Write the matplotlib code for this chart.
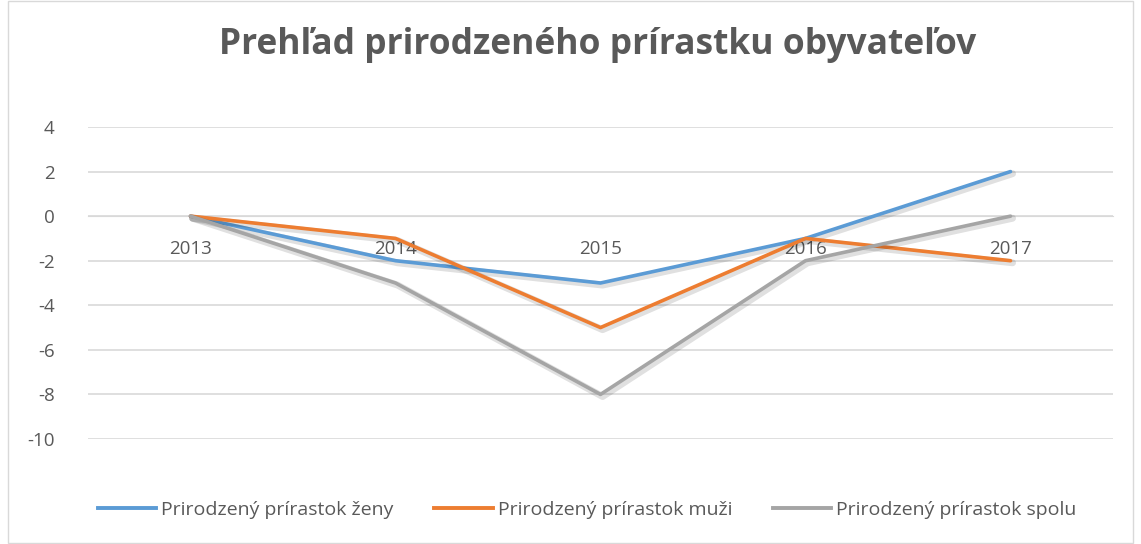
import matplotlib.pyplot as plt
import matplotlib.patheffects as pe
from matplotlib.patches import Rectangle
from matplotlib.lines import Line2D

# data
years = ["2013", "2014", "2015", "2016", "2017"]
zeny = [0, -2, -3, -1, 2]
muzi = [0, -1, -5, -1, -2]
spolu = [0, -3, -8, -2, 0]
labels = ["Prirodzený prírastok ženy", "Prirodzený prírastok muži", "Prirodzený prírastok spolu"]
colors = ["#5B9BD5", "#ED7D31", "#A5A5A5"]

plt.rcParams['font.family'] = ['Open Sans', 'DejaVu Sans']
plt.rcParams['axes.unicode_minus'] = False

fig = plt.figure(figsize=(11.41, 5.44), dpi=100)
ax = fig.add_axes([88/1141, 1-439/544, 1025/1141, (439-127)/544])

# chart border
fig.patches.append(Rectangle((8/1141, 0.002), 1-16/1141, 0.996, transform=fig.transFigure,
                             fill=False, edgecolor="#D9D9D9", linewidth=1))

x = range(len(years))
shadow = [pe.SimpleLineShadow(offset=(1.5, -1.5), shadow_color="#000000", alpha=0.12, linewidth=5), pe.Normal()]
for vals, col in zip([zeny, muzi, spolu], colors):
    ax.plot(x, vals, color=col, linewidth=2.6, path_effects=shadow, solid_capstyle="round", zorder=3)

ax.set_xlim(-0.5, 4.5)
ax.set_ylim(-10, 4)
ax.set_yticks(range(-10, 5, 2))
ax.set_xticks(list(x))
ax.set_xticklabels(years)
ax.grid(axis="y", color="#D9D9D9", linewidth=1.2)
ax.set_axisbelow(True)
for s in ["top", "right", "left"]:
    ax.spines[s].set_visible(False)
ax.spines["bottom"].set_position(("data", 0))
ax.spines["bottom"].set_color("#D9D9D9")
ax.tick_params(axis="both", length=0, colors="#595959", labelsize=13.5)
ax.tick_params(axis="x", pad=17)
ax.tick_params(axis="y", pad=24)

fig.text(0.524, 1-45/544, "Prehľad prirodzeného prírastku obyvateľov", ha="center", va="center",
         fontsize=25.5, fontweight="bold", color="#595959")

handles = [Line2D([], [], color=c, linewidth=2.8) for c in colors]
ax.legend(handles, labels, loc="center", bbox_to_anchor=(0.487, -(510-439)/312), ncol=3, frameon=False,
          fontsize=14, labelcolor="#595959", handlelength=3.0, handletextpad=0.25, columnspacing=2.1)

fig.savefig("out.png", dpi=100)
